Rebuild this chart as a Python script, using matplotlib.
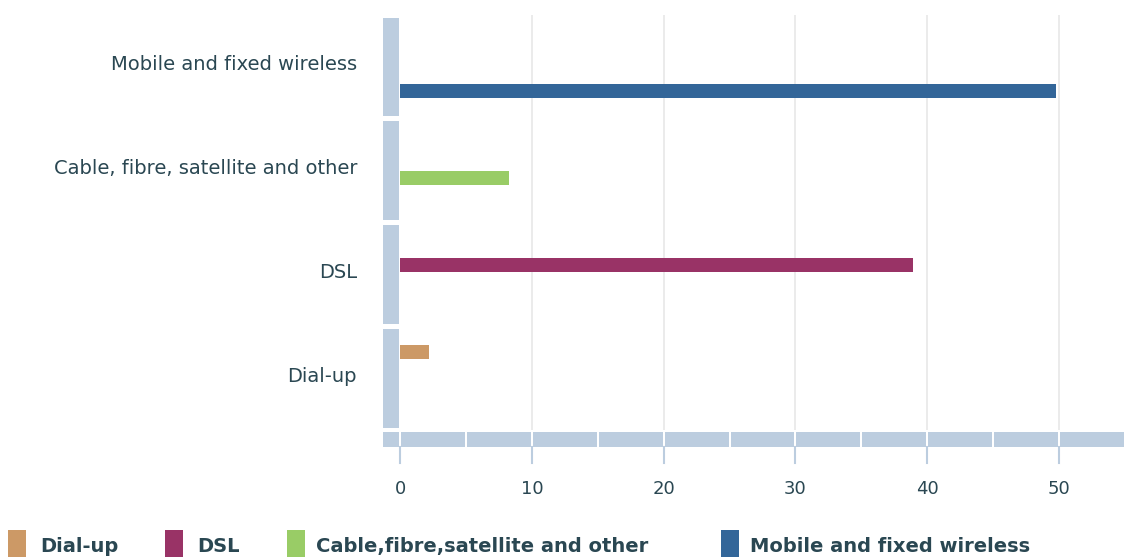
"""Households by broadband connection type: grouped horizontal bars."""

import matplotlib

matplotlib.use("Agg")
import matplotlib.pyplot as plt  # noqa: E402
from matplotlib.patches import Rectangle  # noqa: E402
from matplotlib.transforms import ScaledTranslation  # noqa: E402


categories = [
    "Mobile and fixed wireless",
    "Cable, fibre, satellite and other",
    "DSL",
    "Dial-up",
]
series_names = [
    "Dial-up",
    "DSL",
    "Cable,fibre,satellite and other",
    "Mobile and fixed wireless",
]
# one value per category (same order as categories)
dial_up = [0.0, 0.0, 0.0, 2.2]
dsl = [0.0, 0.0, 38.9, 0.0]
cable = [0.0, 8.3, 0.0, 0.0]
mobile = [49.8, 0.0, 0.0, 0.0]
x_ticks = [0, 10, 20, 30, 40, 50]
x_max = 55

series_colors = ["#cc9966", "#993366", "#99cc66", "#336699"]
WALL = "#bccddf"
TEXT = "#2a4752"
GRID = "#e8e8e8"

W, H, DPI = 1125, 557, 100
figure = plt.figure(figsize=(W / DPI, H / DPI), dpi=DPI)
left, right, top, bottom = 400, 1125, 15, 430
axis = figure.add_axes(
    [left / W, 1 - bottom / H, (right - left) / W, (bottom - top) / H]
)
axis.set_xlim(0, x_max)
axis.set_ylim(len(categories) - 0.5, -0.5)
for spine in axis.spines.values():
    spine.set_visible(False)

px_x = (right - left) / x_max
px_y = (bottom - top) / len(categories)

# gridlines
for tick in x_ticks[1:]:
    axis.axvline(tick, color=GRID, linewidth=1.2, zorder=0)

# bars
slot = 0.16
for j, (values, color) in enumerate(zip([dial_up, dsl, cable, mobile], series_colors)):
    positions = [i + (j - 1.5) * slot - 0.012 for i in range(len(categories))]
    axis.barh(positions, values, height=0.135, color=color, linewidth=0, zorder=3)

# left wall, one segment per category band
wall_x0 = -17 / px_x
wall_x1 = -1 / px_x
gap = 2.5 / px_y
for i in range(len(categories)):
    axis.add_patch(
        Rectangle(
            (wall_x0, i - 0.5 + gap),
            wall_x1 - wall_x0,
            1 - 2 * gap,
            facecolor=WALL,
            edgecolor="none",
            clip_on=False,
            zorder=4,
        )
    )

# bottom wall, one segment every 5 units
floor_y0 = len(categories) - 0.5 + 2 / px_y
floor_h = 15 / px_y
xgap = 1 / px_x
axis.add_patch(
    Rectangle((wall_x0, floor_y0), wall_x1 - wall_x0, floor_h,
              facecolor=WALL, edgecolor="none", clip_on=False, zorder=4)
)
for start in range(0, x_max, 5):
    axis.add_patch(
        Rectangle(
            (start + xgap, floor_y0),
            5 - 2 * xgap,
            floor_h,
            facecolor=WALL,
            edgecolor="none",
            clip_on=False,
            zorder=4,
        )
    )

# tick marks below the floor
for tick in x_ticks:
    axis.plot(
        [tick, tick],
        [floor_y0 + floor_h, floor_y0 + floor_h + 16 / px_y],
        color=WALL,
        linewidth=1.5,
        clip_on=False,
        zorder=4,
    )

axis.set_xticks(x_ticks)
axis.set_xticklabels([str(t) for t in x_ticks], fontsize=13, color=TEXT)
axis.tick_params(axis="x", length=0, pad=36)
axis.set_yticks([])

# category labels, right-aligned left of the wall, a touch above band centre
label_shift = ScaledTranslation(-43 / DPI, 4 / DPI, figure.dpi_scale_trans)
for i, name in enumerate(categories):
    axis.text(0, i, name, fontsize=14, color=TEXT, ha="right",
              va="center_baseline",
              transform=axis.get_yaxis_transform() + label_shift)

# legend along the bottom edge
swatch_x = [8, 165, 287, 721]
text_x = [40, 197, 316, 750]
for name, color, sx, tx in zip(series_names, series_colors, swatch_x, text_x):
    figure.add_artist(
        Rectangle((sx / W, 0), 18 / W, 27 / H, transform=figure.transFigure,
                  facecolor=color, edgecolor="none")
    )
    figure.text(tx / W, 5 / H, name, fontsize=14, fontweight="bold",
                color=TEXT, va="baseline", ha="left")

figure.savefig("out.png", dpi=DPI)
plt.close(figure)
